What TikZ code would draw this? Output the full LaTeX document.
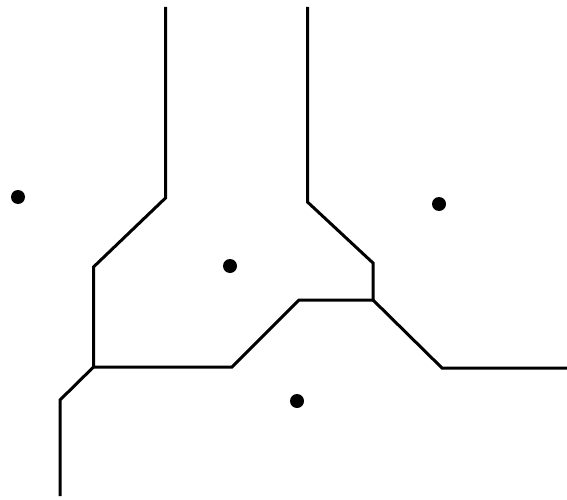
\documentclass[tikz,border=0pt]{standalone}
\begin{document}
\begin{tikzpicture}[x=1pt,y=-1pt,
  edge/.style={line width=3pt,line join=miter,line cap=butt,black},
  site/.style={circle,fill=black,inner sep=0pt,minimum size=14pt}]
\useasboundingbox (0,0) rectangle (567,500);
% sites
\node[site] (s1) at (18,197) {};
\node[site] (s2) at (230,266) {};
\node[site] (s3) at (439,204) {};
\node[site] (s4) at (297,401) {};
% vertices
\coordinate (a0) at (165.5,7);
\coordinate (a1) at (165.5,198);
\coordinate (a2) at (93.5,267);
\coordinate (v1) at (93.5,367);
\coordinate (a3) at (60,400);
\coordinate (a4) at (60,496);
\coordinate (b1) at (232,367);
\coordinate (b2) at (299,300);
\coordinate (v2) at (373,300);
\coordinate (c0) at (307.5,7);
\coordinate (c1) at (307.5,202);
\coordinate (c2) at (373,263);
\coordinate (d1) at (442,368);
\coordinate (d2) at (567,368);
% edges
\draw[edge] (a0) -- (a1) -- (a2) -- (v1) -- (a3) -- (a4);
\draw[edge] (v1) -- (b1) -- (b2) -- (v2);
\draw[edge] (c0) -- (c1) -- (c2) -- (v2);
\draw[edge] (v2) -- (d1) -- (d2);
\end{tikzpicture}
\end{document}
